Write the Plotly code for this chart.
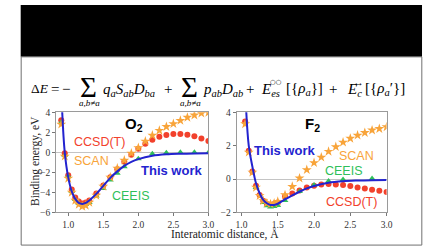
import plotly.graph_objects as go

# ---------------- data ----------------
o2_x = [0.9, 0.95, 1.0, 1.05, 1.1, 1.15, 1.2, 1.25, 1.3, 1.4, 1.5, 1.6, 1.7, 1.8, 1.9,
        2.0, 2.1, 2.2, 2.3, 2.4, 2.5, 2.6, 2.7, 2.8, 2.9, 3.0]
o2_ccsdt = [3.2, -0.1, -2.3, -3.7, -4.5, -4.9, -5.1, -5.0, -4.8, -4.1, -3.3, -2.5, -1.7, -0.95, -0.25,
            0.35, 0.85, 1.25, 1.55, 1.72, 1.82, 1.82, 1.75, 1.6, 1.38, 1.12]
o2_scan = [2.8, -0.4, -2.6, -4.0, -4.8, -5.2, -5.4, -5.3, -5.0, -4.3, -3.4, -2.5, -1.6, -0.8, -0.1,
           0.45, 1.1, 1.7, 2.18, 2.56, 2.85, 3.17, 3.49, 3.71, 3.9, 3.97]
o2_ceeis_x = [0.9, 0.95, 1.0, 1.05, 1.1, 1.15, 1.2, 1.25, 1.3, 1.4, 1.5, 1.6, 1.7, 1.8,
              2.0, 2.2, 2.4, 2.6, 2.8, 3.0]
o2_ceeis = [3.0, -0.3, -2.4, -3.9, -4.7, -5.1, -5.25, -5.2, -5.0, -4.35, -3.6, -2.75, -2.1, -1.43,
            -0.63, -0.15, -0.03, 0.0, 0.0, -0.02]
o2_work_x = [0.91, 0.95, 1.0, 1.05, 1.1, 1.15, 1.2, 1.25, 1.3, 1.4, 1.5, 1.6, 1.7, 1.8, 1.9,
             2.0, 2.2, 2.4, 2.6, 2.8, 3.0]
o2_work = [4.6, 0.0, -2.5, -3.9, -4.65, -5.05, -5.15, -5.05, -4.8, -4.15, -3.35, -2.55, -1.9, -1.35, -0.95,
           -0.68, -0.35, -0.2, -0.14, -0.11, -0.1]

f2_x = [1.05, 1.1, 1.15, 1.2, 1.25, 1.3, 1.35, 1.4, 1.45, 1.5, 1.6, 1.7, 1.8, 1.9,
        2.0, 2.1, 2.2, 2.3, 2.4, 2.5, 2.6, 2.7, 2.8, 2.9, 3.0]
f2_ccsdt = [3.45, 1.7, 0.45, -0.4, -0.95, -1.3, -1.5, -1.55, -1.5, -1.4, -1.05, -0.87, -0.68, -0.5,
            -0.4, -0.33, -0.3, -0.32, -0.36, -0.42, -0.5, -0.57, -0.64, -0.7, -0.78]
f2_scan = [3.3, 1.6, 0.4, -0.5, -1.0, -1.3, -1.45, -1.5, -1.45, -1.35, -0.95, -0.45, 0.05, 0.55,
           0.97, 1.3, 1.65, 1.93, 2.2, 2.43, 2.62, 2.78, 2.93, 3.02, 3.12]
f2_ceeis_x = [1.2, 1.3, 1.35, 1.4, 1.45, 1.5, 1.6, 1.8, 2.0, 2.2, 2.4, 2.8]
f2_ceeis = [-0.5, -1.4, -1.6, -1.68, -1.65, -1.58, -1.28, -0.75, -0.36, -0.12, -0.02, 0.03]
f2_work_x = [1.06, 1.1, 1.15, 1.2, 1.25, 1.3, 1.35, 1.4, 1.45, 1.5, 1.6, 1.7, 1.8, 1.9,
             2.0, 2.2, 2.4, 2.6, 2.8, 3.0]
f2_work = [4.5, 2.0, 0.75, -0.25, -0.85, -1.25, -1.45, -1.55, -1.55, -1.48, -1.22, -0.98, -0.76, -0.56,
           -0.42, -0.22, -0.13, -0.09, -0.07, -0.06]

x_ticks = [1.0, 1.5, 2.0, 2.5, 3.0]
x_ticklabels = ["1.0", "1.5", "2.0", "2.5", "3.0"]

# ---------------- style ----------------
W, H = 448, 252
RED = "#f2412c"
ORANGE = "#f8a43a"
GREEN = "#2fbf5a"
BLUE = "#2323cf"
SERIF = "Liberation Serif, Times New Roman, serif"
SANS = "Liberation Sans, Arial, sans-serif"


def px(x):
    return x / W


def py(y):
    return 1 - y / H


fig = go.Figure()


def add_panel(xa, ya, xs, red, scan, gx, green, wx, work):
    fig.add_trace(go.Scatter(x=xs, y=red, mode="markers", xaxis=xa, yaxis=ya,
                             marker=dict(color=RED, size=6, line=dict(width=0)), showlegend=False))
    fig.add_trace(go.Scatter(x=gx, y=green, mode="markers", xaxis=xa, yaxis=ya,
                             marker=dict(color=GREEN, size=6, symbol="triangle-up", line=dict(width=0)),
                             showlegend=False))
    fig.add_trace(go.Scatter(x=xs, y=scan, mode="markers", xaxis=xa, yaxis=ya,
                             marker=dict(color=ORANGE, size=7.5, symbol="star", line=dict(width=0)),
                             showlegend=False))
    fig.add_trace(go.Scatter(x=wx, y=work, mode="lines", xaxis=xa, yaxis=ya,
                             line=dict(color=BLUE, width=2, shape="spline"), showlegend=False))


add_panel("x", "y", o2_x, o2_ccsdt, o2_scan, o2_ceeis_x, o2_ceeis, o2_work_x, o2_work)
add_panel("x2", "y2", f2_x, f2_ccsdt, f2_scan, f2_ceeis_x, f2_ceeis, f2_work_x, f2_work)

axis_common = dict(showgrid=False, showline=True, mirror=True, linecolor="#9a9a9a", linewidth=1,
                   ticks="outside", ticklen=3, tickcolor="#777", tickwidth=1,
                   tickfont=dict(family=SERIF, size=9.5, color="#333"))

y_top, y_bot = 111.7, 216.0
fig.update_layout(
    width=W, height=H, margin=dict(l=0, r=0, t=0, b=0),
    paper_bgcolor="white", plot_bgcolor="white",
    xaxis=dict(domain=[px(56), px(210.7)], range=[0.827, 3.0], tickvals=x_ticks, ticktext=x_ticklabels,
               anchor="y", **axis_common),
    yaxis=dict(domain=[py(y_bot), py(y_top)], range=[-6, 4], dtick=2, anchor="x",
               zeroline=True, zerolinecolor="#c4c4c4", zerolinewidth=1, **axis_common),
    xaxis2=dict(domain=[px(239.3), px(391.7)], range=[0.932, 3.0], tickvals=x_ticks, ticktext=x_ticklabels,
                anchor="y2", **axis_common),
    yaxis2=dict(domain=[py(y_bot), py(y_top)], range=[-2, 4], dtick=2, anchor="x2",
                zeroline=True, zerolinecolor="#c4c4c4", zerolinewidth=1, **axis_common),
)

# frame and black band
fig.add_shape(type="rect", xref="paper", yref="paper", x0=px(20), x1=px(427.7), y0=py(54), y1=py(0),
              fillcolor="black", line=dict(width=0), layer="below")
fig.add_shape(type="rect", xref="paper", yref="paper", x0=px(20.5), x1=px(427.5), y0=py(250), y1=py(54),
              fillcolor="rgba(0,0,0,0)", line=dict(color="#707070", width=1), layer="below")

ann = []


def text(x, y, s, size, color, family=SANS, xanchor="center", yanchor="middle", angle=0):
    ann.append(dict(x=px(x), y=py(y), xref="paper", yref="paper", text=s, showarrow=False,
                    xanchor=xanchor, yanchor=yanchor, textangle=angle,
                    font=dict(family=family, size=size, color=color)))


# panel labels
text(135, 124, "<b>O<sub>2</sub></b>", 15, "black")
text(100, 143, "CCSD(T)", 12.5, RED)
text(92, 162, "SCAN", 12.5, ORANGE)
text(173, 172, "<b>This work</b>", 13, BLUE)
text(132, 199, "CEEIS", 12.5, GREEN)

text(316, 124, "<b>F<sub>2</sub></b>", 15, "black")
text(288, 152, "<b>This work</b>", 13, BLUE)
text(361, 157, "SCAN", 12.5, ORANGE)
text(348, 173, "CEEIS", 12.5, GREEN)
text(356, 205, "CCSD(T)", 12.5, RED)

# axis titles
text(35, 162, "Binding energy, eV", 11.5, "#222", family=SERIF, angle=-90)
text(228, 238, "Interatomic distance, Å", 11.5, "#222", family=SERIF)

# equation, piece by piece
EQ = 15
ey = 87
K = "black"
text(28, ey, "Δ<i>E</i>", 13.5, K, family=SERIF, xanchor="left")
text(55, ey, "=", EQ, K, family=SERIF)
text(66.5, ey, "−", EQ, K, family=SERIF)
text(89, ey - 2, "Σ", 29, K, family=SERIF)
text(90, 102, "<i>a,b≠a</i>", 9, K, family=SERIF)
text(102, ey + 2, "<i>q<sub>a</sub>S<sub>ab</sub>D<sub>ba</sub></i>", EQ, K, family=SERIF, xanchor="left")
text(170, ey, "+", EQ, K, family=SERIF)
text(191, ey - 2, "Σ", 29, K, family=SERIF)
text(193, 102, "<i>a,b≠a</i>", 9, K, family=SERIF)
text(203, ey + 2, "<i>p<sub>ab</sub>D<sub>ab</sub></i>", EQ, K, family=SERIF, xanchor="left")
text(253, ey, "+", EQ, K, family=SERIF)
text(262, ey + 2, "<i>E<sub>es</sub></i>", EQ, K, family=SERIF, xanchor="left")
text(279, ey - 7, "○○", 6.5, K, family="DejaVu Sans")
text(287, ey, "[{<i>ρ<sub>a</sub></i>}]", EQ, K, family=SERIF, xanchor="left")
text(337, ey, "+", EQ, K, family=SERIF)
text(349, ey + 2, "<i>E<sub>c</sub></i>", EQ, K, family=SERIF, xanchor="left")
text(363, ey - 7, "↔", 11, K, family=SERIF)
text(368, ey, "[{<i>ρ<sub>a</sub></i>′}]", EQ, K, family=SERIF, xanchor="left")

fig.update_layout(annotations=ann)
fig.write_html("out.html", config={"displayModeBar": False},
               post_script="document.body.style.margin='0';document.body.style.padding='0';"
                           "document.body.style.overflow='hidden';")
